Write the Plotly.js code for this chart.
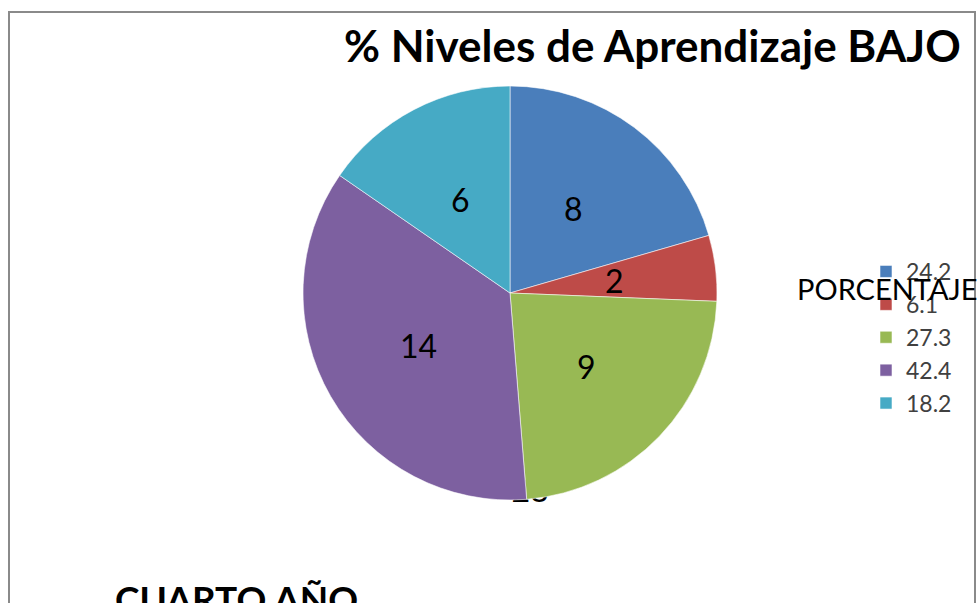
<!DOCTYPE html>
<html>
<head>
<meta charset="utf-8">
<script src="https://cdn.plot.ly/plotly-3.0.1.min.js"></script>
<style>
html,body{margin:0;padding:0;background:#fff;}
#chart{width:979px;height:603px;}
</style>
</head>
<body>
<div id="chart"></div>
<script>
// Data
const legendLabels = ['24.2', '6.1', '27.3', '42.4', '18.2'];
const sliceValues = [8, 2, 9, 14, 6];
const sliceColors = ['#4A7EBB', '#BE4B48', '#98B954', '#7D60A0', '#46AAC5'];
const hiddenLabelText = ['28'];
const hiddenLabelX = [530];
const hiddenLabelY = [494];
const titleText = '% Niveles de Aprendizaje BAJO';
const seriesTitle = 'PORCENTAJE';
const bottomText = 'CUARTO AÑO';

const FONT = 'Lato, "Open Sans", sans-serif';
const W = 979, H = 603;

// pie geometry (pixels)
const CX = 510, CY = 293, R = 207;
const LABEL_FRAC = 0.51;

// data labels at slice mid-angles (clockwise from 12 o'clock)
const total = sliceValues.reduce((a, b) => a + b, 0);
let cum = 0;
const labelAnnots = sliceValues.map(v => {
  const mid = (cum + v / 2) / total * 2 * Math.PI;
  cum += v;
  return {
    text: String(v), xref: 'x', yref: 'y',
    x: CX + LABEL_FRAC * R * Math.sin(mid),
    y: CY - LABEL_FRAC * R * Math.cos(mid),
    xanchor: 'center', yanchor: 'middle', showarrow: false,
    font: {family: FONT, size: 32, color: '#000'}
  };
});

const traces = [
  {
    type: 'scatter',
    mode: 'text',
    x: hiddenLabelX,
    y: hiddenLabelY,
    text: hiddenLabelText,
    textfont: {family: FONT, size: 32, color: '#000'},
    showlegend: false,
    hoverinfo: 'skip',
    cliponaxis: false
  },
  {
    type: 'pie',
    labels: legendLabels,
    values: sliceValues,
    sort: false,
    direction: 'clockwise',
    rotation: 0,
    textinfo: 'none',
    marker: {colors: sliceColors, line: {color: 'rgba(255,255,255,0.55)', width: 1}},
    domain: {x: [(CX - R) / W, (CX + R) / W], y: [1 - (CY + R) / H, 1 - (CY - R) / H]},
    hoverinfo: 'label+value'
  }
];

const layout = {
  width: W,
  height: H,
  margin: {l: 0, r: 0, t: 0, b: 0},
  paper_bgcolor: '#fff',
  plot_bgcolor: 'rgba(0,0,0,0)',
  xaxis: {range: [0, W], visible: false, fixedrange: true},
  yaxis: {range: [H, 0], visible: false, fixedrange: true},
  showlegend: true,
  legend: {
    x: 866 / W, y: 1 - 250 / H, xanchor: 'left', yanchor: 'top',
    font: {family: FONT, size: 23, color: '#404040'},
    bgcolor: 'rgba(0,0,0,0)',
    itemclick: false
  },
  shapes: [
    {type: 'rect', xref: 'paper', yref: 'paper',
     x0: 9 / W, x1: 975 / W, y0: -0.1, y1: 1 - 12 / H,
     line: {color: '#8a8a8a', width: 2}, fillcolor: 'rgba(0,0,0,0)', layer: 'below'}
  ],
  annotations: labelAnnots.concat([
    {text: '<b>' + titleText + '</b>', xref: 'paper', yref: 'paper',
     x: 652 / W, y: 1 - 45 / H, xanchor: 'center', yanchor: 'middle', showarrow: false,
     font: {family: FONT, size: 44, color: '#000'}},
    {text: seriesTitle, xref: 'paper', yref: 'paper',
     x: 795 / W, y: 1 - 288 / H, xanchor: 'left', yanchor: 'middle', showarrow: false,
     font: {family: FONT, size: 29, color: '#000'}},
    {text: '<b>' + bottomText + '</b>', xref: 'paper', yref: 'paper',
     x: 113 / W, y: 1 - 574 / H, xanchor: 'left', yanchor: 'top', showarrow: false,
     font: {family: FONT, size: 37, color: '#000'}}
  ])
};

Plotly.newPlot('chart', traces, layout, {displayModeBar: false, staticPlot: true});
</script>
</body>
</html>
